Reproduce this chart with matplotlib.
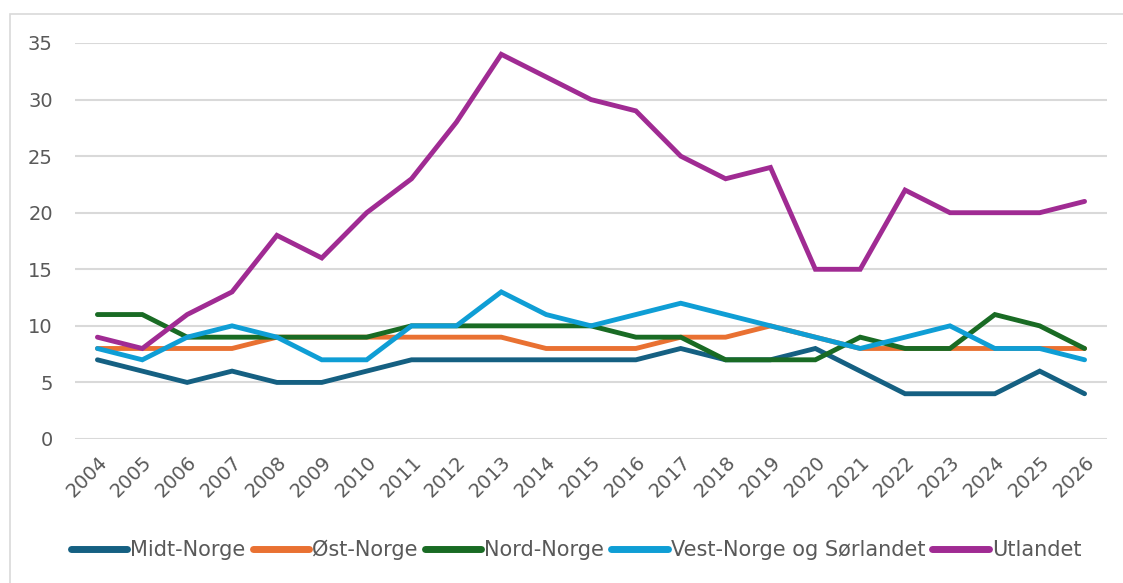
import matplotlib.pyplot as plt
from matplotlib.patches import Rectangle

# --- Data ---
years = list(range(2004, 2027))
midt_norge = [7, 6, 5, 6, 5, 5, 6, 7, 7, 7, 7, 7, 7, 8, 7, 7, 8, 6, 4, 4, 4, 6, 4]
ost_norge = [8, 8, 8, 8, 9, 9, 9, 9, 9, 9, 8, 8, 8, 9, 9, 10, 9, 8, 8, 8, 8, 8, 8]
nord_norge = [11, 11, 9, 9, 9, 9, 9, 10, 10, 10, 10, 10, 9, 9, 7, 7, 7, 9, 8, 8, 11, 10, 8]
vest_norge = [8, 7, 9, 10, 9, 7, 7, 10, 10, 13, 11, 10, 11, 12, 11, 10, 9, 8, 9, 10, 8, 8, 7]
utlandet = [9, 8, 11, 13, 18, 16, 20, 23, 28, 34, 32, 30, 29, 25, 23, 24, 15, 15, 22, 20, 20, 20, 21]

series = [
    ("Midt-Norge", midt_norge, "#156082"),
    ("Øst-Norge", ost_norge, "#E97132"),
    ("Nord-Norge", nord_norge, "#196B24"),
    ("Vest-Norge og Sørlandet", vest_norge, "#0F9ED5"),
    ("Utlandet", utlandet, "#A02B93"),
]

# --- Figure ---
W, H = 1123, 583
fig = plt.figure(figsize=(W / 100, H / 100), dpi=100)
ax = fig.add_axes([75 / W, (H - 439) / H, (1107 - 75) / W, (439 - 43) / H])

# light outer frame
fig.patches.append(Rectangle((10 / W, -0.1), 1.2, (H - 14) / H + 0.1,
                             transform=fig.transFigure, fill=False,
                             edgecolor="#D9D9D9", linewidth=1.2))

x = list(range(len(years)))
for name, vals, col in series:
    ax.plot(x, vals, color=col, linewidth=3.5, label=name,
            solid_capstyle="round", solid_joinstyle="miter")

ax.set_xlim(-0.5, len(years) - 0.5)
ax.set_ylim(0, 35)
ax.set_yticks(range(0, 36, 5))
ax.set_xticks(x)
ax.set_xticklabels([str(y) for y in years], rotation=45, ha="right",
                   rotation_mode="anchor", fontsize=14, color="#595959")
for lab in ax.get_yticklabels():
    lab.set_fontsize(14)
    lab.set_color("#595959")

ax.grid(axis="y", color="#D9D9D9", linewidth=1.5)
ax.set_axisbelow(True)
for s in ax.spines.values():
    s.set_visible(False)
ax.tick_params(axis="both", length=0)
ax.tick_params(axis="y", pad=16)
ax.tick_params(axis="x", pad=10)

leg = fig.legend(loc="center", bbox_to_anchor=(576 / W, (H - 550) / H), ncol=5,
                 frameon=False, handlelength=2.7, handletextpad=0.15,
                 columnspacing=0.35,
                 prop={"family": ["Liberation Sans Narrow", "DejaVu Sans"], "size": 15})
for t in leg.get_texts():
    t.set_color("#595959")
for line in leg.get_lines():
    line.set_linewidth(5)

fig.savefig("out.png", dpi=100)
